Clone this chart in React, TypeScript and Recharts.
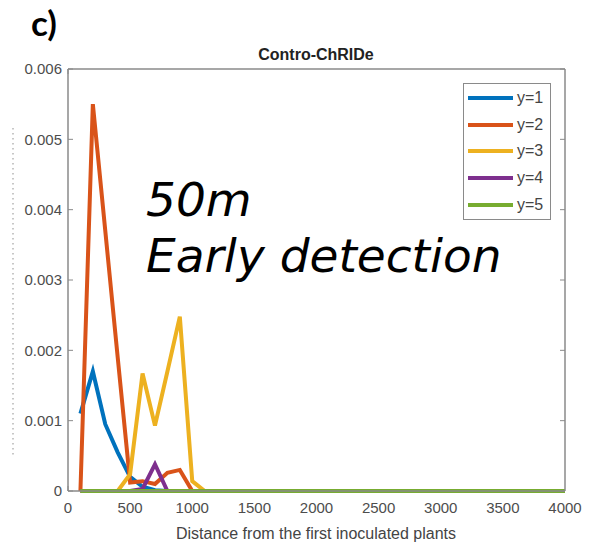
import { LineChart, Line, XAxis, YAxis, Legend } from "recharts";

const DISTANCE = [100, 200, 300, 400, 500, 600, 700, 800, 900, 1000, 1100, 1200, 4000];
const Y1 = [0.0011, 0.0017, 0.00095, 0.00055, 0.0002, 0.00006, 0.00001, 0, 0, 0, 0, 0, 0];
const Y2 = [0, 0.0055, 0.0037, 0.0019, 0.00012, 0.00014, 0.0001, 0.00026, 0.0003, 0, 0, 0, 0];
const Y3 = [0, 0, 0, 0, 0.00024, 0.00167, 0.00093, 0.0017, 0.00248, 0.00014, 0, 0, 0];
const Y4 = [0, 0, 0, 0, 0, 0.00003, 0.00038, 0, 0, 0, 0, 0, 0];
const Y5 = [0, 0, 0, 0, 0, 0, 0, 0, 0, 0, 0, 0, 0];

const X_TICKS = [0, 500, 1000, 1500, 2000, 2500, 3000, 3500, 4000];
const Y_TICKS = [0, 0.001, 0.002, 0.003, 0.004, 0.005, 0.006];

const SERIES = [
  { key: "y1", name: "y=1", color: "#0072BD", values: Y1 },
  { key: "y2", name: "y=2", color: "#D95319", values: Y2 },
  { key: "y3", name: "y=3", color: "#EDB120", values: Y3 },
  { key: "y4", name: "y=4", color: "#7E2F8E", values: Y4 },
  { key: "y5", name: "y=5", color: "#77AC30", values: Y5 },
];

const data = DISTANCE.map((d, i) => {
  const row: Record<string, number> = { d };
  SERIES.forEach((s) => { row[s.key] = s.values[i]; });
  return row;
});

const AXIS = "#8a8a8a";
const FONT = "'Liberation Sans', Arial, sans-serif";
const tickStyle = { fill: "#4d4d4d", fontSize: 15, fontFamily: FONT };
const noLabel = () => <g />;

function LegendBox() {
  return (
    <div style={{
      border: `1.5px solid ${AXIS}`, background: "#fff", width: 86, padding: "1px 0",
      fontFamily: FONT, fontSize: 16, color: "#444",
    }}>
      {SERIES.map((s) => (
        <div key={s.key} style={{ display: "flex", alignItems: "center", height: 26.6 }}>
          <span style={{ display: "inline-block", width: 45, height: 4, background: s.color, marginLeft: 4, marginRight: 4 }} />
          <span>{s.name}</span>
        </div>
      ))}
    </div>
  );
}

export default function App() {
  return (
    <div style={{ position: "absolute", left: 0, top: 0, width: 589, height: 546, background: "#fff" }}>
      <LineChart width={589} height={546} data={data} margin={{ top: 69, right: 24, bottom: 25, left: 8 }}>
        <XAxis xAxisId="b" dataKey="d" type="number" domain={[0, 4000]} ticks={X_TICKS}
          height={30} tickLine={false} tickSize={0} tickMargin={11} tick={tickStyle}
          axisLine={{ stroke: AXIS, strokeWidth: 1.5 }} />
        <XAxis xAxisId="bm" type="number" domain={[0, 4000]} ticks={X_TICKS} allowDataOverflow mirror
          tick={noLabel} tickSize={5} tickLine={{ stroke: AXIS }} axisLine={false} />
        <XAxis xAxisId="t" orientation="top" type="number" domain={[0, 4000]} ticks={X_TICKS} allowDataOverflow mirror
          tick={noLabel} tickSize={5} tickLine={{ stroke: AXIS }} axisLine={{ stroke: AXIS, strokeWidth: 1.5 }} />
        <YAxis yAxisId="l" type="number" domain={[0, 0.006]} ticks={Y_TICKS} width={60}
          tickLine={false} tickSize={0} tickMargin={6} tick={tickStyle}
          axisLine={{ stroke: AXIS, strokeWidth: 1.5 }} />
        <YAxis yAxisId="lm" type="number" domain={[0, 0.006]} ticks={Y_TICKS} allowDataOverflow mirror
          tick={noLabel} tickSize={5} tickLine={{ stroke: AXIS }} axisLine={false} />
        <YAxis yAxisId="r" orientation="right" type="number" domain={[0, 0.006]} ticks={Y_TICKS} allowDataOverflow mirror
          tick={noLabel} tickSize={5} tickLine={{ stroke: AXIS }} axisLine={{ stroke: AXIS, strokeWidth: 1.5 }} />

        {SERIES.map((s) => (
          <Line key={s.key} xAxisId="b" yAxisId="l" type="linear" dataKey={s.key} name={s.name}
            stroke={s.color} strokeWidth={4} dot={false} isAnimationActive={false} />
        ))}

        <Legend layout="horizontal" verticalAlign="middle" align="center"
          wrapperStyle={{ left: 463, top: 83, width: "auto", height: "auto" }}
          content={() => <LegendBox />} />

        <text x={316} y={60} textAnchor="middle" fontFamily={FONT} fontWeight="bold" fontSize={16} fill="#222">
          Contro-ChRIDe
        </text>
        <text x={316} y={539} textAnchor="middle" fontFamily={FONT} fontSize={16} fill="#444">
          Distance from the first inoculated plants
        </text>
        <text x={31} y={36} fontFamily="Lato, 'Open Sans', sans-serif" fontWeight="bold" fontSize={35} fill="#000">
          c)
        </text>
        <text x={146} y={216} fontFamily="'DejaVu Sans', sans-serif" fontStyle="italic" fontSize={47} fill="#000">
          50m
        </text>
        <text x={146} y={272} fontFamily="'DejaVu Sans', sans-serif" fontStyle="italic" fontSize={47} fill="#000">
          Early detection
        </text>
        <line x1={13} y1={128} x2={13} y2={458} stroke="#b5b5b5" strokeWidth={1.5} strokeDasharray="1.5 3.5" />
      </LineChart>
    </div>
  );
}
